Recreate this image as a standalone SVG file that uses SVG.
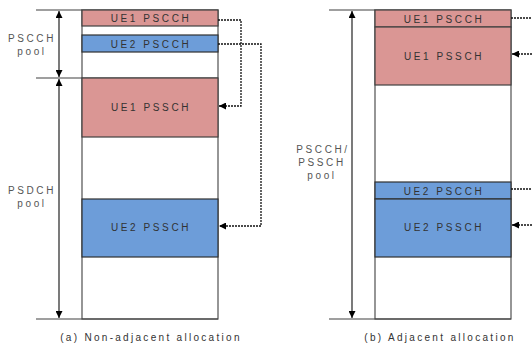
<svg xmlns="http://www.w3.org/2000/svg" width="532" height="346" viewBox="0 0 532 346">
<defs>
<style>
.t{font-family:"Liberation Sans",Arial,sans-serif;font-size:10px;fill:#333;letter-spacing:2.6px;text-anchor:middle}
.lbl{font-family:"Liberation Sans",Arial,sans-serif;font-size:10px;fill:#555;letter-spacing:2.6px;text-anchor:middle}
.cap{font-family:"Liberation Sans",Arial,sans-serif;font-size:10px;fill:#333;letter-spacing:2.3px;text-anchor:middle}
.pink{fill:#DA9694;stroke:#404040;stroke-width:1.2}
.blue{fill:#6D9DD9;stroke:#303030;stroke-width:1.2}
.wh{fill:#fff;stroke:#505050;stroke-width:1.2}
.ln{stroke:#404040;stroke-width:1.2;fill:none}
.dim{stroke:#222;stroke-width:1.2;fill:none;marker-start:url(#ah);marker-end:url(#ah)}
.dot{stroke:#111;stroke-width:1.3;fill:none;stroke-dasharray:2 1}
.dota{stroke:#111;stroke-width:1.3;fill:none;stroke-dasharray:2 1;marker-end:url(#ah)}
</style>
<marker id="ah" viewBox="0 0 10 10" refX="10" refY="5" markerWidth="8" markerHeight="7" markerUnits="userSpaceOnUse" orient="auto-start-reverse">
<path d="M0,0 L10,5 L0,10 z" fill="#000"/>
</marker>
</defs>

<g id="diagram-a">
<g id="a-frame">
<rect class="wh" x="82" y="10" width="136" height="309"/>
<line class="ln" x1="36" y1="10" x2="82" y2="10"/>
<line class="ln" x1="36" y1="78" x2="218" y2="78"/>
<line class="ln" x1="36" y1="319" x2="218" y2="319"/>
</g>
<g id="a-ue1-pscch"><rect class="pink" x="82" y="10" width="136" height="16"/><text class="t" x="151" y="22">UE1 PSCCH</text></g>
<g id="a-ue2-pscch"><rect class="blue" x="82" y="35" width="136" height="17"/><text class="t" x="151" y="47.5">UE2 PSCCH</text></g>
<g id="a-ue1-pssch"><rect class="pink" x="82" y="78" width="136" height="59"/><text class="t" x="151" y="111">UE1 PSSCH</text></g>
<g id="a-ue2-pssch"><rect class="blue" x="82" y="199" width="136" height="58"/><text class="t" x="151" y="231">UE2 PSSCH</text></g>
<g id="a-pscch-pool"><line class="dim" x1="59" y1="11" x2="59" y2="77"/><text class="lbl" x="32" y="42">PSCCH</text><text class="lbl" x="32" y="55">pool</text></g>
<g id="a-psdch-pool"><line class="dim" x1="59" y1="79" x2="59" y2="318"/><text class="lbl" x="32" y="194">PSDCH</text><text class="lbl" x="32" y="207">pool</text></g>
<text class="cap" x="151" y="341">(a) Non-adjacent allocation</text>
</g>

<g id="diagram-b">
<g id="b-frame">
<rect class="wh" x="375" y="10" width="136" height="309"/>
<line class="ln" x1="329" y1="10" x2="375" y2="10"/>
<line class="ln" x1="329" y1="319" x2="511" y2="319"/>
</g>
<g id="b-ue1-pscch"><rect class="pink" x="375" y="10" width="136" height="17"/><text class="t" x="444" y="22.5">UE1 PSCCH</text></g>
<g id="b-ue1-pssch"><rect class="pink" x="375" y="27" width="136" height="58"/><text class="t" x="444" y="59.5">UE1 PSSCH</text></g>
<g id="b-ue2-pscch"><rect class="blue" x="375" y="182" width="136" height="17"/><text class="t" x="444" y="194.5">UE2 PSCCH</text></g>
<g id="b-ue2-pssch"><rect class="blue" x="375" y="199" width="136" height="58"/><text class="t" x="444" y="231">UE2 PSSCH</text></g>
<g id="b-pool"><line class="dim" x1="352" y1="11" x2="352" y2="318"/><text class="lbl" x="323" y="153">PSCCH/</text><text class="lbl" x="322" y="166">PSSCH</text><text class="lbl" x="322" y="179">pool</text></g>
<text class="cap" x="440" y="341">(b) Adjacent allocation</text>
</g>

<g id="connectors">
<polyline class="dota" points="218,20 241,20 241,106 219,106"/>
<polyline class="dota" points="218,44 261,44 261,226 219,226"/>
<line class="dot" x1="511" y1="18" x2="532" y2="18"/>
<line class="dota" x1="532" y1="54" x2="512" y2="54"/>
<line class="dot" x1="511" y1="189" x2="532" y2="189"/>
<line class="dota" x1="532" y1="225" x2="512" y2="225"/>
</g>
</svg>
